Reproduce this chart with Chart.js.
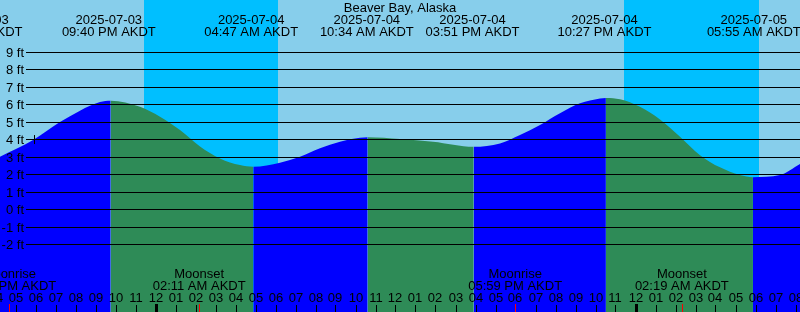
<!DOCTYPE html>
<html>
<head>
<meta charset="utf-8">
<script src="https://cdn.jsdelivr.net/npm/chart.js@4"></script>
<style>
html,body{margin:0;padding:0;overflow:hidden;background:#87CEEB;}
#wrap{width:800px;height:312px;}
</style>
</head>
<body>
<div id="wrap"><canvas id="c" width="800" height="312"></canvas></div>
<script>
// Hours relative to 2025-07-04 00:00 AKDT, heights in ft
const tideHours = [-7.775, -6.075, -4.775, -3.775, -2.775, -2.24, -0.775, 0.225, 1.225, 2.225, 3.225, 4.225, 4.89,
  6.225, 7.225, 8.225, 9.225, 10.225, 10.61, 12.225, 13.875, 15.91, 17.225, 18.225, 19.225, 20.225, 21.225, 22.225,
  22.52, 23.225, 24.225, 25.225, 26.225, 27.225, 28.225, 29.225, 29.87, 31.225, 32.225];
const tideHeights = [3.02, 4.0, 5.0, 5.65, 6.14, 6.22, 5.87, 5.3, 4.54, 3.6, 2.92, 2.54, 2.45,
  2.68, 3.02, 3.5, 3.88, 4.1, 4.13, 4.03, 3.88, 3.59, 3.78, 4.26, 4.83, 5.5, 6.07, 6.35,
  6.38, 6.3, 5.87, 5.15, 4.16, 3.11, 2.41, 1.97, 1.85, 1.97, 2.6];

const title = 'Beaver Bay, Alaska';
const eventHours = [-9.0, -2.333, 4.783, 10.567, 15.85, 22.45, 29.917];
const eventDates = ['2025-07-03', '2025-07-03', '2025-07-04', '2025-07-04', '2025-07-04', '2025-07-04', '2025-07-05'];
const eventTimes = ['03:00 PM AKDT', '09:40 PM AKDT', '04:47 AM AKDT', '10:34 AM AKDT', '03:51 PM AKDT', '10:27 PM AKDT', '05:55 AM AKDT'];

const sunsetHours = [-0.575, 23.425];
const sunriseHours = [6.125, 30.175];

const moonHours = [-7.31, 2.183, 17.983, 26.317];
const moonNames = ['Moonrise', 'Moonset', 'Moonrise', 'Moonset'];
const moonTimes = ['04:41 PM AKDT', '02:11 AM AKDT', '05:59 PM AKDT', '02:19 AM AKDT'];

const hourTicks = [-8,-7,-6,-5,-4,-3,-2,-1,0,1,2,3,4,5,6,7,8,9,10,11,12,13,14,15,16,17,18,19,20,21,22,23,24,25,26,27,28,29,30,31,32];
const hourLabels = ['04','05','06','07','08','09','10','11','12','01','02','03','04','05','06','07','08','09','10','11',
  '12','01','02','03','04','05','06','07','08','09','10','11','12','01','02','03','04','05','06','07','08'];
const midnightHours = [0, 24];

const levelValues = [9, 8, 7, 6, 5, 4, 3, 2, 1, 0, -1, -2];
const levelLabels = ['9 ft', '8 ft', '7 ft', '6 ft', '5 ft', '4 ft', '3 ft', '2 ft', '1 ft', '0 ft', '-1 ft', '-2 ft'];
const markHour = -6.06, markLevel = 4;

const FONT = '13px "Liberation Sans", Arial, sans-serif';
const SKY = '#87CEEB', NIGHT = '#00BFFF', RISE = '#0000FF', FALL = '#2E8B57';

const points = tideHours.map((h, i) => ({x: h, y: tideHeights[i]}));

const decor = {
  id: 'decor',
  beforeDatasetsDraw(chart) {
    const {ctx, scales: {x}, width, height} = chart;
    ctx.save();
    ctx.fillStyle = SKY;
    ctx.fillRect(0, 0, width, height);
    ctx.fillStyle = NIGHT;
    sunsetHours.forEach((s, i) => {
      const a = Math.round(x.getPixelForValue(s));
      const b = Math.round(x.getPixelForValue(sunriseHours[i]));
      ctx.fillRect(a, 0, b - a, height);
    });
    ctx.restore();
  },
  afterDatasetsDraw(chart) {
    const {ctx, scales: {x, y}, width, height} = chart;
    ctx.save();
    ctx.font = FONT;
    ctx.fillStyle = '#000';
    ctx.strokeStyle = '#000';
    ctx.lineWidth = 1;
    levelValues.forEach((v, i) => {
      const py = Math.floor(y.getPixelForValue(v)) + 0.5;
      ctx.beginPath();
      ctx.moveTo(26, py);
      ctx.lineTo(width, py);
      ctx.stroke();
      ctx.textAlign = 'right';
      ctx.textBaseline = 'alphabetic';
      ctx.fillText(levelLabels[i], 24, py + 4.5);
    });
    const mx = Math.floor(x.getPixelForValue(markHour)) + 0.5;
    const my = y.getPixelForValue(markLevel);
    ctx.beginPath();
    ctx.moveTo(mx, my - 4.5);
    ctx.lineTo(mx, my + 4.5);
    ctx.stroke();
    ctx.textAlign = 'center';
    ctx.fillText(title, width / 2, 12);
    eventHours.forEach((h, i) => {
      const px = x.getPixelForValue(h);
      ctx.fillText(eventDates[i], px, 24);
      ctx.fillText(eventTimes[i], px, 36);
    });
    moonHours.forEach((h, i) => {
      const px = x.getPixelForValue(h);
      ctx.fillText(moonNames[i], px, 278);
      ctx.fillText(moonTimes[i], px, 290);
    });
    hourTicks.forEach((h, i) => {
      const px = Math.round(x.getPixelForValue(h));
      ctx.fillText(hourLabels[i], px, 302);
      ctx.fillRect(px, 305, 1, height - 305);
    });
    midnightHours.forEach(h => {
      const px = Math.round(x.getPixelForValue(h));
      ctx.fillRect(px - 1, 304, 3, height - 304);
    });
    ctx.fillStyle = '#FF0000';
    moonHours.forEach(h => {
      const px = Math.round(x.getPixelForValue(h));
      ctx.fillRect(px, 304, 1, height - 304);
    });
    ctx.restore();
  }
};

new Chart(document.getElementById('c'), {
  type: 'line',
  data: {
    datasets: [{
      data: points,
      borderWidth: 0,
      borderColor: 'rgba(0,0,0,0)',
      pointRadius: 0,
      fill: 'start',
      backgroundColor: RISE,
      cubicInterpolationMode: 'monotone',
      segment: {
        backgroundColor: c => (c.p1.parsed.y >= c.p0.parsed.y ? RISE : FALL)
      }
    }]
  },
  options: {
    responsive: false,
    devicePixelRatio: 1,
    animation: false,
    layout: {padding: 0},
    plugins: {legend: {display: false}, tooltip: {enabled: false}, title: {display: false}},
    scales: {
      x: {type: 'linear', display: false, min: -7.775, max: 32.225},
      y: {type: 'linear', display: false, min: -5.855, max: 11.975}
    }
  },
  plugins: [decor]
});
</script>
</body>
</html>
